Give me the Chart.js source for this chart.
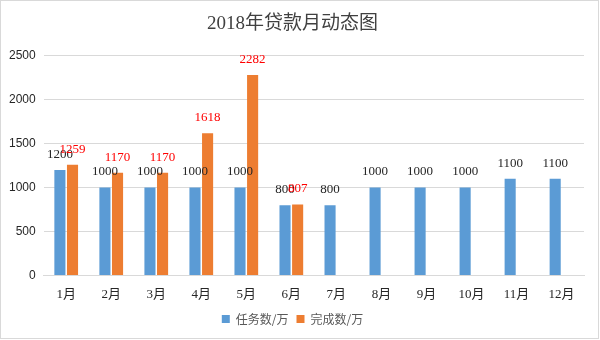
<!DOCTYPE html>
<html>
<head>
<meta charset="utf-8">
<script src="https://cdn.jsdelivr.net/npm/chart.js@4"></script>
<style>
  html, body { margin: 0; padding: 0; background: #fff; }
  #wrap { position: relative; width: 597px; height: 337px; border: 1px solid #d9d9d9; }
</style>
</head>
<body>
<div id="wrap"><canvas id="myChart" width="597" height="337"></canvas></div>
<script>
var months = ["1月", "2月", "3月", "4月", "5月", "6月", "7月", "8月", "9月", "10月", "11月", "12月"];
var taskValues = [1200, 1000, 1000, 1000, 1000, 800, 800, 1000, 1000, 1000, 1100, 1100];
var doneValues = [1259, 1170, 1170, 1618, 2282, 807, null, null, null, null, null, null];
var yTicks = [0, 500, 1000, 1500, 2000, 2500];

var cjk = "'Noto Sans CJK SC', sans-serif";
var serif = "'Liberation Serif', 'Noto Sans CJK SC', serif";

// value labels over each bar (black for task, red for done)
var barLabels = {
  id: "barLabels",
  afterDatasetsDraw: function(chart) {
    var ctx = chart.ctx;
    ctx.save();
    ctx.font = "13px " + serif;
    ctx.textAlign = "center";
    ctx.textBaseline = "bottom";
    chart.data.datasets.forEach(function(ds, i) {
      var meta = chart.getDatasetMeta(i);
      ctx.fillStyle = i == 0 ? "#262626" : "#ff0000";
      meta.data.forEach(function(bar, j) {
        if (ds.data[j] == null) return;
        ctx.fillText(ds.data[j], bar.x, bar.y - 9);
      });
    });
    ctx.restore();
  }
};

new Chart("myChart", {
  type: "bar",
  data: {
    labels: months,
    datasets: [{
      label: "任务数/万",
      backgroundColor: "#5b9bd5",
      data: taskValues
    }, {
      label: "完成数/万",
      backgroundColor: "#ed7d31",
      data: doneValues
    }]
  },
  options: {
    responsive: false,
    animation: false,
    categoryPercentage: 0.56,
    barPercentage: 0.88,
    layout: { padding: { left: 0, right: 14, top: 0, bottom: 3 } },
    plugins: {
      title: {
        display: true,
        text: "2018年贷款月动态图",
        color: "#404040",
        font: { family: serif, size: 19, weight: "normal" },
        padding: { top: 12, bottom: 20 }
      },
      legend: {
        position: "bottom",
        labels: {
          color: "#595959",
          font: { family: cjk, size: 12 },
          boxWidth: 8,
          boxHeight: 8,
          padding: 8
        }
      },
      tooltip: { enabled: false }
    },
    scales: {
      x: {
        grid: { display: false },
        border: { color: "#d9d9d9" },
        ticks: { color: "#262626", font: { family: serif, size: 13 }, padding: 3 }
      },
      y: {
        min: 0,
        max: 2500,
        afterBuildTicks: function(axis) {
          axis.ticks = yTicks.map(function(v) { return { value: v }; });
        },
        grid: { color: "#d9d9d9", drawTicks: false },
        border: { display: false },
        ticks: {
          color: "#262626",
          font: { family: "'Liberation Sans', sans-serif", size: 12 },
          padding: 8,
          callback: function(v) { return String(v); }
        }
      }
    }
  },
  plugins: [barLabels]
});
</script>
</body>
</html>
